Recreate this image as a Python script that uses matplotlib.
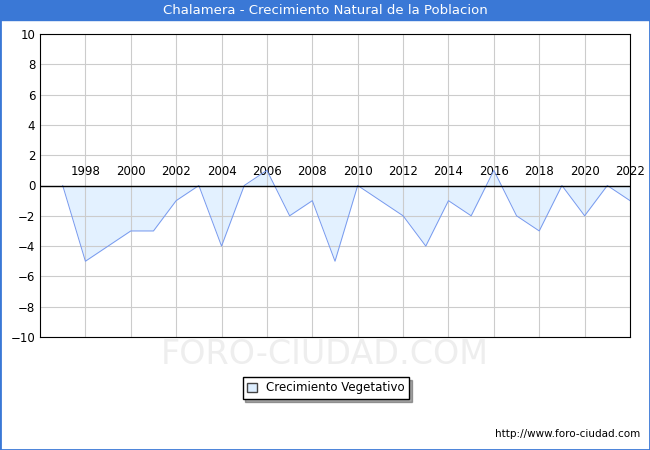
import matplotlib.pyplot as plt
import numpy as np

years = list(range(1997, 2023))
values = [0, -5, -4, -3, -3, -1, 0, -4, 0, 1, -2, -1, -5, 0, -1, -2, -4, -1, -2, 1, -2, -3, 0, -2, 0, -1]
ticks = list(range(1998, 2023, 2))

fig = plt.figure(figsize=(6.5, 4.5), dpi=100)
fig.patch.set_facecolor('white')
ax = fig.add_axes([40/650, 113/450, 590/650, 303/450])

ax.fill_between(years, values, 0, color='#ddeeff', alpha=0.8, linewidth=0)
ax.plot(years, values, color='#7799ee', linewidth=0.7)
ax.axhline(0, color='black', linewidth=1)
ax.set_xlim(1997 - 1.0, 2022.0)
ax.set_ylim(-10, 10)
ax.set_yticks(range(-10, 11, 2))
ax.set_xticks(ticks)
ax.grid(color='#cccccc', linewidth=0.8)
ax.tick_params(length=0, labelsize=8.5)
ax.tick_params(axis='x', pad=-124)
for lab in ax.get_xticklabels():
    lab.set_horizontalalignment('center')

fig.text(0.5, 352/450 - 0.78 + 0.78, '', ha='center')
fig.text(0.5, 95/450, 'FORO-CIUDAD.COM', ha='center', va='center', fontsize=24, color='#eeeeee')

# title bar
fig.patches.append(plt.Rectangle((0, 430/450), 1, 20/450, transform=fig.transFigure, color='#3a78d6'))
fig.text(0.5, 440/450, 'Chalamera - Crecimiento Natural de la Poblacion', ha='center', va='center',
         color='white', fontsize=9.5)
fig.patches.append(plt.Rectangle((0, 0), 1, 1, transform=fig.transFigure, fill=False, edgecolor='#3a78d6', linewidth=2))

leg = fig.legend([plt.Rectangle((0, 0), 1, 1, facecolor='#ddeeff', edgecolor='#444444')], ['Crecimiento Vegetativo'],
                 loc='center', bbox_to_anchor=(326/650, 62/450), fontsize=8.5, fancybox=False, shadow=True,
                 edgecolor='black', handlelength=0.8, handleheight=0.8)
fig.text(640/650, 16/450, 'http://www.foro-ciudad.com', ha='right', va='center', fontsize=7.5)

fig.savefig('out.png', dpi=100)
